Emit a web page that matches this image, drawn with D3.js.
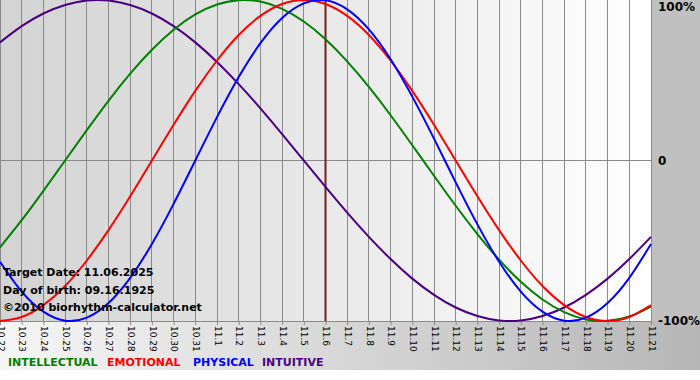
<!DOCTYPE html>
<html><head><meta charset="utf-8">
<script src="https://cdn.jsdelivr.net/npm/d3@7/dist/d3.min.js"></script>
<style>html,body{margin:0;padding:0;background:#fff;}svg{display:block;}</style>
</head><body>
<script>
const dates = ["10.22","10.23","10.24","10.25","10.26","10.27","10.28","10.29","10.30","10.31",
  "11.1","11.2","11.3","11.4","11.5","11.6","11.7","11.8","11.9","11.10","11.11","11.12","11.13",
  "11.14","11.15","11.16","11.17","11.18","11.19","11.20","11.21"];
const targetDate = "11.6";
const physical = [-0.631,-0.817,-0.942,-0.998,-0.979,-0.888,-0.731,-0.520,-0.270,0,0.270,0.520,0.731,0.888,0.979,0.998,0.942,0.817,0.631,0.398,0.136,-0.136,-0.398,-0.631,-0.817,-0.942,-0.998,-0.979,-0.888,-0.731,-0.520];
const emotional = [-1,-0.975,-0.901,-0.782,-0.623,-0.434,-0.223,0,0.223,0.434,0.623,0.782,0.901,0.975,1,0.975,0.901,0.782,0.623,0.434,0.223,0,-0.223,-0.434,-0.623,-0.782,-0.901,-0.975,-1,-0.975,-0.901];
const intellectual = [-0.541,-0.372,-0.189,0,0.189,0.372,0.541,0.690,0.815,0.910,0.972,0.999,0.990,0.945,0.866,0.756,0.618,0.458,0.282,0.095,-0.095,-0.282,-0.458,-0.618,-0.756,-0.866,-0.945,-0.990,-0.999,-0.972,-0.910];
const intuitive = [0.736,0.837,0.916,0.969,0.997,0.997,0.969,0.916,0.837,0.736,0.614,0.476,0.325,0.165,0,-0.165,-0.325,-0.476,-0.614,-0.736,-0.837,-0.916,-0.969,-0.997,-0.997,-0.969,-0.916,-0.837,-0.736,-0.614,-0.476];
const yTicks = [1, 0, -1];
const yTickLabels = ["100%", "0", "-100%"];
const seriesNames = ["INTELLECTUAL","EMOTIONAL","PHYSICAL","INTUITIVE"];
const infoLines = ["Target Date: 11.06.2025", "Day of birth: 09.16.1925"];
const copyright = "\u00A92010 biorhythm-calculator.net";

const W = 700, H = 380;
const plot = {l:0, r:651, t:0, b:321};
const svg = d3.select("body").append("svg").attr("width", W).attr("height", H);
const defs = svg.append("defs");
const g1 = defs.append("linearGradient").attr("id","plotbg").attr("x1","0").attr("x2","1").attr("y1","0").attr("y2","0");
g1.append("stop").attr("offset","0").attr("stop-color","#d3d3d3");
g1.append("stop").attr("offset","1").attr("stop-color","#ffffff");
const g2 = defs.append("linearGradient").attr("id","botbg").attr("x1","0").attr("x2","1").attr("y1","0").attr("y2","0");
g2.append("stop").attr("offset","0").attr("stop-color","#f6f6f6");
g2.append("stop").attr("offset","1").attr("stop-color","#b6b6b6");

// backgrounds
svg.append("rect").attr("x",0).attr("y",0).attr("width",W).attr("height",H).attr("fill","#ffffff");
svg.append("rect").attr("x",0).attr("y",plot.b).attr("width",W).attr("height",370-plot.b).attr("fill","url(#botbg)");
svg.append("rect").attr("x",plot.r).attr("y",0).attr("width",W-plot.r).attr("height",plot.b).attr("fill","#c0c0c0");
svg.append("rect").attr("x",plot.l).attr("y",plot.t).attr("width",plot.r-plot.l).attr("height",plot.b-plot.t).attr("fill","url(#plotbg)");

const x = d3.scalePoint().domain(dates).range([plot.l, plot.r]);
const y = d3.scaleLinear().domain([-1, 1]).range([plot.b, plot.t]);

// vertical grid
svg.append("g").selectAll("line").data(dates).join("line")
  .attr("x1", d => x(d)).attr("x2", d => x(d))
  .attr("y1", plot.t).attr("y2", plot.b)
  .attr("stroke", "#8a8a8a").attr("stroke-width", 1).attr("shape-rendering","crispEdges");
// horizontal zero grid
svg.append("line").attr("x1", plot.l).attr("x2", plot.r).attr("y1", y(0)).attr("y2", y(0))
  .attr("stroke","#8a8a8a").attr("stroke-width",1).attr("shape-rendering","crispEdges");

// bottom axis
const xAxis = d3.axisBottom(x).tickSize(4).tickPadding(2);
const ax = svg.append("g").attr("transform", `translate(0,${plot.b})`).call(xAxis);
ax.select(".domain").attr("stroke","#8a8a8a");
ax.selectAll(".tick line").attr("stroke","#8a8a8a");
ax.selectAll(".tick text")
  .attr("font-family","'DejaVu Sans', Verdana, sans-serif").attr("font-size","9px").attr("fill","#000")
  .attr("transform","rotate(90)").attr("text-anchor","start").attr("dy","0.32em").attr("x",5).attr("y",0);

// right axis labels
svg.append("g").selectAll("text").data(yTicks).join("text")
  .attr("x", 658).attr("y", d => y(d)).attr("dy", (d,i) => i===0 ? "0.9em" : (i===1 ? "0.4em" : "0.35em"))
  .attr("font-family","'DejaVu Sans', Verdana, sans-serif").attr("font-weight","bold").attr("font-size","12px")
  .attr("fill","#000").text((d,i) => yTickLabels[i]);

// target line
svg.append("line").attr("x1", x(targetDate)).attr("x2", x(targetDate)).attr("y1", plot.t).attr("y2", plot.b)
  .attr("stroke","#7a1c1c").attr("stroke-width",2);

// series
const colors = {INTELLECTUAL:"#008000", EMOTIONAL:"#ff0000", PHYSICAL:"#0000ff", INTUITIVE:"#4b0082"};
const seriesData = {INTELLECTUAL: intellectual, EMOTIONAL: emotional, PHYSICAL: physical, INTUITIVE: intuitive};
const line = d3.line().x((v,i) => x(dates[i])).y(v => y(v)).curve(d3.curveNatural);
const clip = defs.append("clipPath").attr("id","clip");
clip.append("rect").attr("x",plot.l).attr("y",plot.t-2).attr("width",plot.r-plot.l+1).attr("height",plot.b-plot.t+3);
const sg = svg.append("g").attr("clip-path","url(#clip)");
["INTUITIVE","INTELLECTUAL","EMOTIONAL","PHYSICAL"].forEach(name => {
  sg.append("path").attr("d", line(seriesData[name])).attr("fill","none")
    .attr("stroke", colors[name]).attr("stroke-width", 2);
});

// info text
const tf = "'DejaVu Sans', Verdana, sans-serif";
svg.append("g").selectAll("text").data(infoLines).join("text")
  .attr("x", 3).attr("y", (d,i) => 276 + i*18)
  .attr("font-family", tf).attr("font-weight","bold").attr("font-size","11px").attr("fill","#000").text(d => d);
svg.append("text").attr("x",3).attr("y",311).attr("font-family", tf).attr("font-weight","bold")
  .attr("font-size","11px").attr("fill","#000").text(copyright);

// legend
const legendX = [8, 107, 193, 262];
svg.append("g").selectAll("text").data(seriesNames).join("text")
  .attr("x", (d,i) => legendX[i]).attr("y", 366)
  .attr("font-family", tf).attr("font-weight","bold").attr("font-size","11px")
  .attr("fill", d => colors[d]).text(d => d);
</script>
</body></html>
